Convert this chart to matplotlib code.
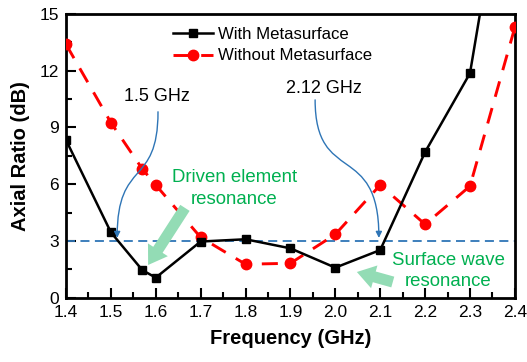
import matplotlib
matplotlib.use('Agg')
import matplotlib.pyplot as plt
from matplotlib.ticker import MultipleLocator
from matplotlib.patches import FancyArrowPatch
from matplotlib.path import Path

plt.rcParams['font.family'] = ['Liberation Sans', 'DejaVu Sans']

freq_with = [1.4, 1.5, 1.57, 1.6, 1.7, 1.8, 1.9, 2.0, 2.1, 2.2, 2.3, 2.4]
ar_with = [8.34, 3.46, 1.46, 1.06, 2.97, 3.09, 2.61, 1.59, 2.52, 7.7, 11.87, 26.0]
freq_without = [1.4, 1.5, 1.57, 1.6, 1.7, 1.8, 1.9, 2.0, 2.1, 2.2, 2.3, 2.4]
ar_without = [13.4, 9.26, 6.81, 5.96, 3.19, 1.77, 1.82, 3.35, 5.96, 3.88, 5.9, 14.3]
xticks = [1.4, 1.5, 1.6, 1.7, 1.8, 1.9, 2.0, 2.1, 2.2, 2.3, 2.4]
yticks = [0, 3, 6, 9, 12, 15]

fig = plt.figure(figsize=(5.27, 3.62), dpi=100)
ax = fig.add_axes([0.1252, 0.1776, 0.8518, 0.7837])

ax.plot(freq_with, ar_with, color='black', lw=1.8, marker='s', ms=6,
        label='With Metasurface', zorder=4)
ax.plot(freq_without, ar_without, color='#ff0000', lw=2.1, marker='o', ms=7.5,
        dashes=(5.5, 4), label='Without Metasurface', zorder=3)
ax.axhline(3, color='#2e75b6', lw=1.3, dashes=(5, 3), zorder=2)

ax.set_xlim(1.4, 2.4)
ax.set_ylim(0, 15)
ax.set_xticks(xticks)
ax.set_xticklabels(['%.1f' % t for t in xticks])
ax.set_yticks(yticks)
ax.xaxis.set_minor_locator(MultipleLocator(0.05))
ax.yaxis.set_minor_locator(MultipleLocator(1.5))
ax.tick_params(which='major', direction='in', length=7, width=1.5,
               labelsize=12.5, top=False, right=False, pad=5)
ax.tick_params(which='minor', direction='in', length=4, width=1.5,
               top=False, right=False)
for s in ax.spines.values():
    s.set_linewidth(2)

ax.set_xlabel('Frequency (GHz)', fontsize=14.5, fontweight='bold', labelpad=7)
ax.set_ylabel('Axial Ratio (dB)', fontsize=14.5, fontweight='bold', labelpad=7)

ax.legend(loc='upper left', bbox_to_anchor=(0.238, 0.955), frameon=False,
          fontsize=12.1, handlelength=2.4, handletextpad=0.3, labelspacing=0.4,
          borderaxespad=0, borderpad=0)

# curved blue pointers (cubic bezier, data coords)
blue = '#2e75b6'
curve_15 = Path([(1.605, 9.83), (1.605, 5.8), (1.514, 7.4), (1.514, 3.16)],
                [Path.MOVETO, Path.CURVE4, Path.CURVE4, Path.CURVE4])
curve_212 = Path([(1.955, 10.46), (1.955, 5.9), (2.097, 8.3), (2.097, 3.16)],
                 [Path.MOVETO, Path.CURVE4, Path.CURVE4, Path.CURVE4])
for p in (curve_15, curve_212):
    ax.add_patch(FancyArrowPatch(path=p, arrowstyle='-|>', color=blue, lw=1,
                                 mutation_scale=9, zorder=5))
ax.text(1.603, 10.62, '1.5 GHz', fontsize=13, ha='center', va='center')
ax.text(1.975, 11.08, '2.12 GHz', fontsize=13, ha='center', va='center')

# resonance labels with broad arrows
green = '#00b050'
light_green = '#93dcb5'
fat = 'simple,head_width=1.7,head_length=1.3,tail_width=0.8'
ax.text(1.775, 5.78, 'Driven element\nresonance', fontsize=13.4, color=green,
        ha='center', va='center', linespacing=1.35)
ax.annotate('', xy=(1.583, 1.73), xytext=(1.665, 4.75),
            arrowprops=dict(arrowstyle=fat, color=light_green, lw=0,
                            mutation_scale=10, shrinkA=0, shrinkB=0))
ax.text(2.252, 1.41, 'Surface wave\nresonance', fontsize=13.4, color=green,
        ha='center', va='center', linespacing=1.35)
ax.annotate('', xy=(2.048, 1.36), xytext=(2.128, 0.83),
            arrowprops=dict(arrowstyle=fat, color=light_green, lw=0,
                            mutation_scale=10, shrinkA=0, shrinkB=0))

fig.savefig('out.png', dpi=100)
